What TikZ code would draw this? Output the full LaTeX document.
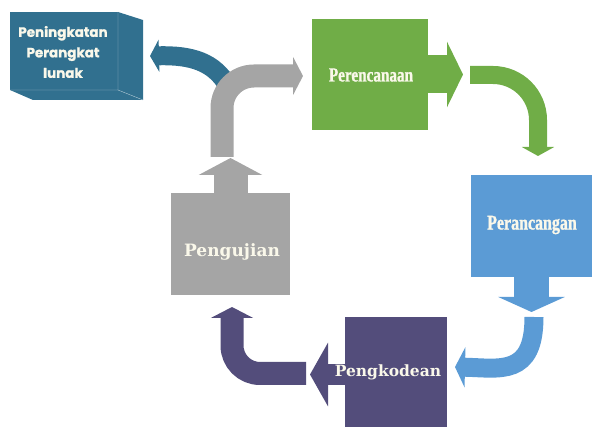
\documentclass[tikz,border=0pt]{standalone}
\usepackage{fontspec}
\usetikzlibrary{arrows.meta}
\newfontfamily\roundfont[FakeBold=1.2]{Poppins}
\newfontfamily\condfont[FakeStretch=0.76,FakeBold=1]{Liberation Serif}
\newfontfamily\wideserif[BoldFont={DejaVu Serif Bold}]{DejaVu Serif}
\definecolor{upteal}{HTML}{31708F}
\definecolor{plangreen}{HTML}{70AD47}
\definecolor{designblue}{HTML}{5B9BD5}
\definecolor{codepurple}{HTML}{534D7B}
\definecolor{testgray}{HTML}{A5A5A5}
\definecolor{cream}{HTML}{FAF8EA}
\tikzset{
    stage/.style={inner sep=0pt,outer sep=0pt},
    stagetext/.style={text=cream,inner sep=0pt},
}
\begin{document}
\begin{tikzpicture}[x=1pt,y=-1pt]
    \useasboundingbox (0,0) rectangle (592,427);
    \clip (0,0) rectangle (592,427);

    % boxes
    \node[stage,fill=upteal,minimum width=108pt,minimum height=78pt] (upgrade) at (64,51) {};
    \fill[upteal] (upgrade.north east) -- (143,20) -- (143,100) -- (upgrade.south east) -- cycle;
    \fill[upteal] (upgrade.south west) -- (upgrade.south east) -- (143,100) -- (33,100) -- cycle;
    \draw[white!55!upteal,thin] (upgrade.north east) -- (upgrade.south east) -- (upgrade.south west)
        (upgrade.south east) -- (143,100);
    \node[stage,fill=plangreen,minimum width=116pt,minimum height=111pt] (plan) at (370,74.5) {};
    \node[stage,fill=designblue,minimum width=121pt,minimum height=102pt] (design) at (531.5,226) {};
    \node[stage,fill=codepurple,minimum width=102pt,minimum height=115pt] (code) at (396,374.5) {};
    \node[stage,fill=testgray,minimum width=119pt,minimum height=102pt] (test) at (230.5,244) {};

    % arrows out of the boxes
    \draw[plangreen,line width=38pt,-{Triangle[length=16pt,width=65pt]}] (plan.east) -- ++(35,0);
    \draw[designblue,line width=35pt,-{Triangle[length=15pt,width=66pt]}] (design.south) -- ++(0,35);
    \draw[codepurple,line width=21pt,-{Triangle[length=18pt,width=63pt]}] (code.west) -- ++(-35,0);
    \draw[testgray,line width=34pt,-{Triangle[length=17pt,width=63pt]}] (test.north) -- ++(0,-35);

    % bent arrows between the stages
    \coordinate (t1) at (228,86);
    \coordinate (t2) at (150,56);
    \draw[upteal,line width=19pt,-{Triangle[length=9pt,width=32pt]}]
        (t1) .. controls (214,62) and (192,55) .. (t2);
    \coordinate (g1) at (222,157);
    \coordinate (g2) at (303,76);
    \draw[testgray,line width=23pt,rounded corners=32pt,-{Triangle[length=10pt,width=38pt]}] (g1) |- (g2);
    \coordinate (p1) at (470,75);
    \coordinate (p2) at (538,156);
    \draw[plangreen,line width=18pt,rounded corners=45pt,-{Triangle[length=9pt,width=32pt]}] (p1) -| (p2);
    \coordinate (d1) at (534,317);
    \coordinate (d2) at (455,367);
    \draw[designblue,line width=19pt,-{Triangle[length=10pt,width=40pt]}]
        (d1) .. controls (534,377) and (500,368) .. (d2);
    \coordinate (c1) at (306,373.5);
    \coordinate (c2) at (232,307);
    \draw[codepurple,line width=23pt,rounded corners=28pt,-{Triangle[length=11pt,width=42pt]}] (c1) -| (c2);

    % labels
    \node[stagetext,align=center,font=\roundfont\bfseries\fontsize{13.5}{20.5}\selectfont] (upgrade-t) at (63,52)
        {Peningkatan\\Perangkat\\lunak};
    \node[stagetext,font=\condfont\bfseries\fontsize{20}{20}\selectfont] (plan-t) at (371,75) {Perencanaan};
    \node[stagetext,font=\condfont\bfseries\fontsize{21}{21}\selectfont] (design-t) at (532,225) {Perancangan};
    \node[stagetext,font=\wideserif\bfseries\fontsize{15.5}{15.5}\selectfont] (code-t) at (388,372) {Pengkodean};
    \node[stagetext,font=\wideserif\bfseries\fontsize{17}{17}\selectfont] (test-t) at (232,252) {Pengujian};
\end{tikzpicture}
\end{document}
